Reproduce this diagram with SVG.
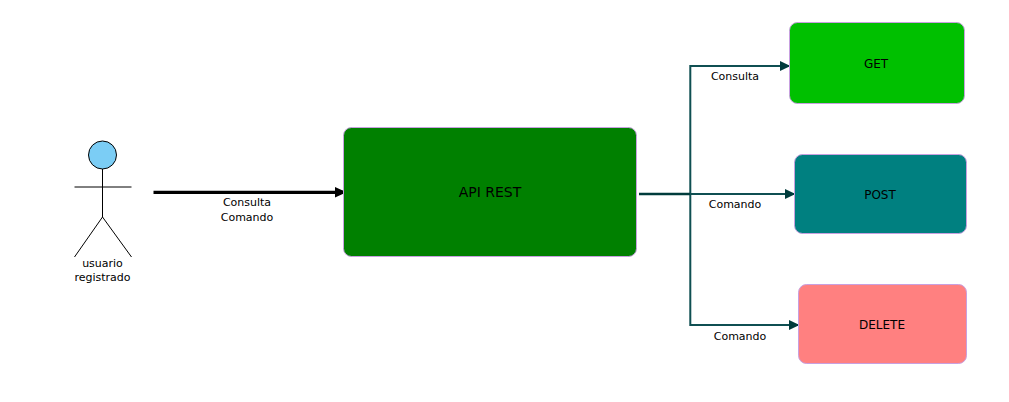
<svg xmlns="http://www.w3.org/2000/svg" width="1009" height="402" viewBox="0 0 1009 402">
<style>
text{font-family:"DejaVu Sans",sans-serif;fill:#000;text-anchor:middle}
.s{font-size:11px}
.m{font-size:12px}
.box{stroke:#c8a0e0;stroke-width:1}
.act{fill:none;stroke:#000;stroke-width:1}
.c{fill:none;stroke:#0f4f52;stroke-width:2}
</style>
<defs>
<marker id="ah" markerUnits="userSpaceOnUse" markerWidth="12" markerHeight="12" refX="10.500" refY="5" orient="auto"><path d="M0 0L10.500 5L0 10Z" fill="#003c3c"/></marker>
<marker id="ak" markerUnits="userSpaceOnUse" markerWidth="13" markerHeight="12" refX="12" refY="5.500" orient="auto"><path d="M0 0L12 5.500L0 11Z" fill="#000"/></marker>
</defs>
<rect width="1009" height="402" fill="#fff"/>
<g id="connectors">
<path d="M153.500 192.300H346.500" fill="none" stroke="#000" stroke-width="3.300" marker-end="url(#ak)"/>
<path class="c" d="M639 194H690.300V66H790.500" marker-end="url(#ah)"/>
<path class="c" d="M639 194H795.500" marker-end="url(#ah)"/>
<path class="c" d="M639 194H690.300V325H799.500" marker-end="url(#ah)"/>
<path d="M639 194H690" fill="none" stroke="#003c3c" stroke-width="2.500"/>
<text class="s" x="247" y="206">Consulta</text>
<text class="s" x="247" y="221">Comando</text>
<text class="s" x="735" y="80">Consulta</text>
<text class="s" x="735" y="208">Comando</text>
<text class="s" x="740" y="340">Comando</text>
</g>
<g id="actor">
<circle cx="102.500" cy="155" r="14" fill="#7bcdf5" stroke="#000"/>
<path class="act" d="M102.500 169V217M74.500 187H131.500M74.500 257L102.500 217L131.500 257"/>
<text class="s" x="102.500" y="267">usuario</text>
<text class="s" x="102.500" y="281">registrado</text>
</g>
<g id="api-rest">
<rect class="box" x="343.500" y="127.500" width="293" height="129" rx="8" fill="#008000"/>
<text x="490" y="197" font-size="14">API REST</text>
</g>
<g id="get">
<rect class="box" x="789.500" y="22.500" width="175" height="81" rx="8" fill="#00c000"/>
<text class="m" x="876" y="68">GET</text>
</g>
<g id="post">
<rect class="box" x="794.500" y="154.500" width="172" height="79" rx="8" fill="#008080"/>
<text class="m" x="880" y="199">POST</text>
</g>
<g id="delete">
<rect class="box" x="798.500" y="284.500" width="168" height="79" rx="8" fill="#ff8080"/>
<text class="m" x="882" y="329">DELETE</text>
</g>
</svg>
